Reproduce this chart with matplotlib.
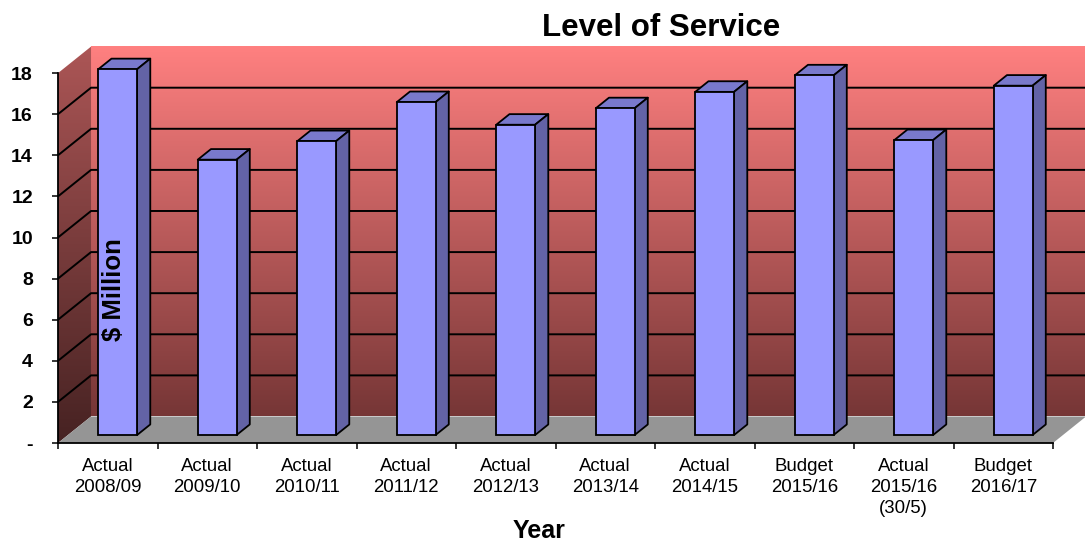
import numpy as np
import matplotlib
matplotlib.use("Agg")
import matplotlib.pyplot as plt
from matplotlib.patches import Polygon

# ---- data -------------------------------------------------------------
categories = ["Actual\n2008/09", "Actual\n2009/10", "Actual\n2010/11",
              "Actual\n2011/12", "Actual\n2012/13", "Actual\n2013/14",
              "Actual\n2014/15", "Budget\n2015/16", "Actual\n2015/16\n(30/5)",
              "Budget\n2016/17"]
values = [17.8, 13.4, 14.3, 16.2, 15.1, 15.9, 16.7, 17.5, 14.35, 17.0]
y_ticks = [0, 2, 4, 6, 8, 10, 12, 14, 16, 18]
y_tick_labels = ["-", "2", "4", "6", "8", "10", "12", "14", "16", "18"]

FONT = "Liberation Sans"

# ---- oblique "3-D" geometry (in data units) ----------------------------
DX = 0.332        # depth shift along x for the full floor depth
DY = 1.29         # depth shift along y for the full floor depth
D_FRONT, D_BACK = 0.30, 0.70   # depth span occupied by the columns
BAR_W = 0.39
YMAX = 18

fig = plt.figure(figsize=(10.85, 5.43), dpi=100)
W, H = 1085, 543
x_left_px, y_zero_px = 58, 443
px_per_cat, px_per_unit = 99.5, 20.55
x_hi = -0.5 + (W - x_left_px) / px_per_cat
y_hi = (y_zero_px - 40) / px_per_unit
ax = fig.add_axes([x_left_px / W, (H - y_zero_px) / H,
                   (W - x_left_px) / W, (y_zero_px - 40) / H])
ax.set_facecolor("none")

n = len(values)
x0, x1 = -0.5, n - 0.5


def gradient(c_top, c_bot, steps=256):
    t = np.linspace(0, 1, steps)[:, None]
    c_top = np.array(c_top) / 255.0
    c_bot = np.array(c_bot) / 255.0
    g = c_top[None, :] * (1 - t) + c_bot[None, :] * t
    return g[:, None, :]


# back wall
back = gradient((255, 128, 128), (118, 54, 54))
ax.imshow(back, extent=[x0 + DX, x1 + DX, DY, YMAX + DY], aspect="auto",
          origin="upper", zorder=0, interpolation="bilinear", clip_on=False)

# side wall (clipped to its parallelogram)
side_poly = Polygon([(x0, 0), (x0 + DX, DY), (x0 + DX, YMAX + DY), (x0, YMAX)],
                    closed=True, facecolor="none", edgecolor="none",
                    transform=ax.transData)
side = gradient((172, 86, 86), (70, 34, 34))
im = ax.imshow(side, extent=[x0, x0 + DX, 0, YMAX + DY], aspect="auto",
               origin="upper", zorder=0, interpolation="bilinear")
im.set_clip_path(side_poly)

# floor
ax.add_patch(Polygon([(x0, 0), (x1, 0), (x1 + DX, DY), (x0 + DX, DY)],
                     closed=True, facecolor="#959595", edgecolor="none",
                     zorder=1, clip_on=False))

# gridlines running across the side wall and the back wall
for v in y_ticks[1:-1]:
    ax.plot([x0, x0 + DX, x1 + DX], [v, v + DY, v + DY], color="black",
            lw=1.4, zorder=2, clip_on=False, solid_capstyle="butt")

# columns: front faces as bars, plus top and side faces
xs = np.arange(n) + D_FRONT * DX
base = D_FRONT * DY
ddx, ddy = (D_BACK - D_FRONT) * DX, (D_BACK - D_FRONT) * DY
ax.bar(xs, values, width=BAR_W, bottom=base, color="#9999ff",
       edgecolor="black", linewidth=1.3, zorder=5, clip_on=False)
for xc, v in zip(xs, values):
    xl, xr, top = xc - BAR_W / 2, xc + BAR_W / 2, base + v
    ax.add_patch(Polygon([(xl, top), (xr, top), (xr + ddx, top + ddy),
                          (xl + ddx, top + ddy)], closed=True,
                         facecolor="#7979cc", edgecolor="black", lw=1.3,
                         zorder=4, clip_on=False, joinstyle="round"))
    ax.add_patch(Polygon([(xr, base), (xr, top), (xr + ddx, top + ddy),
                          (xr + ddx, base + ddy)], closed=True,
                         facecolor="#6363a6", edgecolor="black", lw=1.3,
                         zorder=4, clip_on=False, joinstyle="round"))

ax.set_xlim(x0, x_hi)
ax.set_ylim(0, y_hi)

# axes
for s in ("top", "right"):
    ax.spines[s].set_visible(False)
ax.spines["left"].set_bounds(0, YMAX)
ax.spines["bottom"].set_bounds(x0, x1)
for s in ("left", "bottom"):
    ax.spines[s].set_linewidth(1.3)
    ax.spines[s].set_zorder(6)

ax.set_yticks(y_ticks)
ax.set_yticklabels(y_tick_labels, fontsize=14, fontweight="bold",
                   fontfamily=FONT)
ax.tick_params(axis="y", length=4.5, width=1.1, pad=13.5, direction="out")

ax.set_xticks(np.arange(n))
ax.set_xticklabels(categories, fontsize=13.4, fontfamily=FONT,
                   linespacing=1.32)
ax.set_xticks(np.arange(n + 1) - 0.5, minor=True)
ax.tick_params(axis="x", which="major", length=0, pad=10.5)
ax.tick_params(axis="x", which="minor", length=4.5, width=1.1,
               direction="out")

fig.text(661 / W, 1 - 36 / H, "Level of Service", ha="center",
         va="baseline", fontsize=22.5, fontweight="bold", fontfamily=FONT)
fig.text(539 / W, 1 - 538 / H, "Year", ha="center", va="baseline",
         fontsize=18, fontweight="bold", fontfamily=FONT)
fig.text(114 / W, 1 - 290 / H, "$ Million", ha="center", va="center",
         rotation=90, fontsize=18.5, fontweight="bold", fontfamily=FONT,
         zorder=10)

fig.savefig("out.png", dpi=100)
